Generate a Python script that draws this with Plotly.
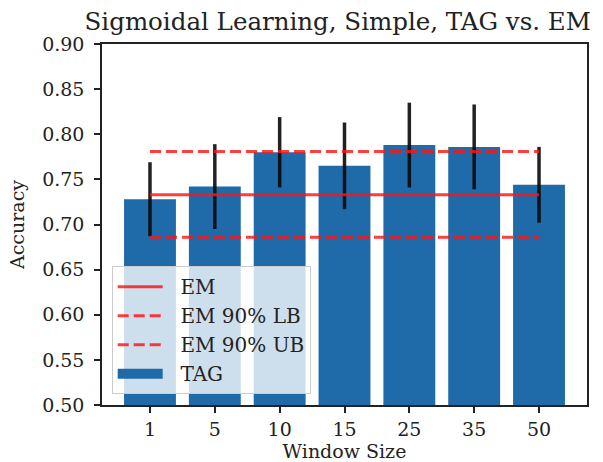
import plotly.graph_objects as go

# ---- data ----
window_sizes = ["1", "5", "10", "15", "25", "35", "50"]
tag_accuracy = [0.728, 0.742, 0.780, 0.765, 0.788, 0.786, 0.744]
tag_err = [0.041, 0.047, 0.039, 0.048, 0.047, 0.047, 0.042]
em_mean = 0.733
em_lb = 0.686
em_ub = 0.781
y_ticks = [0.50, 0.55, 0.60, 0.65, 0.70, 0.75, 0.80, 0.85, 0.90]

FONT = "DejaVu Serif"
BAR_COLOR = "#1f6aa9"
RED = "rgba(255,20,20,0.82)"
PAD = "\u00a0\u00a0"

fig = go.Figure()

fig.add_trace(go.Bar(
    x=window_sizes, y=tag_accuracy, name="TAG",
    marker=dict(color=BAR_COLOR, line=dict(width=0)),
    error_y=dict(type="data", array=tag_err, visible=True,
                 color="rgba(10,10,10,0.9)", thickness=3.5, width=0),
    showlegend=False,
))

x_ends = [window_sizes[0], window_sizes[-1]]
fig.add_trace(go.Scatter(x=x_ends, y=[em_mean, em_mean], mode="lines", name=PAD + "EM",
                         line=dict(color=RED, width=3), legendrank=1, legendgroup="a"))
fig.add_trace(go.Scatter(x=x_ends, y=[em_lb, em_lb], mode="lines", name=PAD + "EM 90% LB",
                         line=dict(color=RED, width=3, dash="11px,5px"), legendrank=2, legendgroup="b"))
fig.add_trace(go.Scatter(x=x_ends, y=[em_ub, em_ub], mode="lines", name=PAD + "EM 90% UB",
                         line=dict(color=RED, width=3, dash="11px,5px"), legendrank=3, legendgroup="c"))
# legend entry for the bars (wide rectangle handle like matplotlib)
fig.add_trace(go.Scatter(x=[None], y=[None], mode="lines", name=PAD + "TAG",
                         line=dict(color=BAR_COLOR, width=14), legendrank=4, legendgroup="d"))

fig.update_layout(
    width=603, height=462,
    margin=dict(l=102, r=16, t=44, b=57, autoexpand=False),
    paper_bgcolor="white", plot_bgcolor="white",
    font=dict(family=FONT, size=19, color="#222"),
    title=dict(text="Sigmoidal Learning, Simple, TAG vs. EM", x=0.486, xref="paper",
               xanchor="center", y=1 - 21 / 462, yref="container", yanchor="middle",
               font=dict(family=FONT, size=24.5, color="#222")),
    bargap=0.2,
    legend=dict(x=0.02, y=0.03, xanchor="left", yanchor="bottom",
                bgcolor="rgba(255,255,255,0.78)", bordercolor="#cccccc", borderwidth=1,
                font=dict(family=FONT, size=20, color="#222"),
                tracegroupgap=0, itemwidth=45),
)

fig.update_xaxes(
    type="category", range=[-0.74, 6.74], automargin=False,
    showline=True, linecolor="#222", linewidth=1.5, mirror=True,
    ticks="outside", ticklen=6, tickwidth=1.5, tickcolor="#222",
    showgrid=False, zeroline=False,
    tickfont=dict(family=FONT, size=19, color="#222"),
    title=dict(text="Window Size", font=dict(family=FONT, size=19, color="#222"), standoff=0),
)
fig.update_yaxes(
    range=[0.5, 0.9], tickvals=y_ticks, ticktext=[f"{v:.2f}" for v in y_ticks],
    automargin=False, ticklabelstandoff=6,
    showline=True, linecolor="#222", linewidth=1.5, mirror=True,
    ticks="outside", ticklen=6, tickwidth=1.5, tickcolor="#222",
    showgrid=False, zeroline=False,
    tickfont=dict(family=FONT, size=19, color="#222"),
    title=dict(text="Accuracy", font=dict(family=FONT, size=19, color="#222"), standoff=12),
)

fig.write_html("out.html", config={"displayModeBar": False},
               post_script="document.body.style.margin='0';")
